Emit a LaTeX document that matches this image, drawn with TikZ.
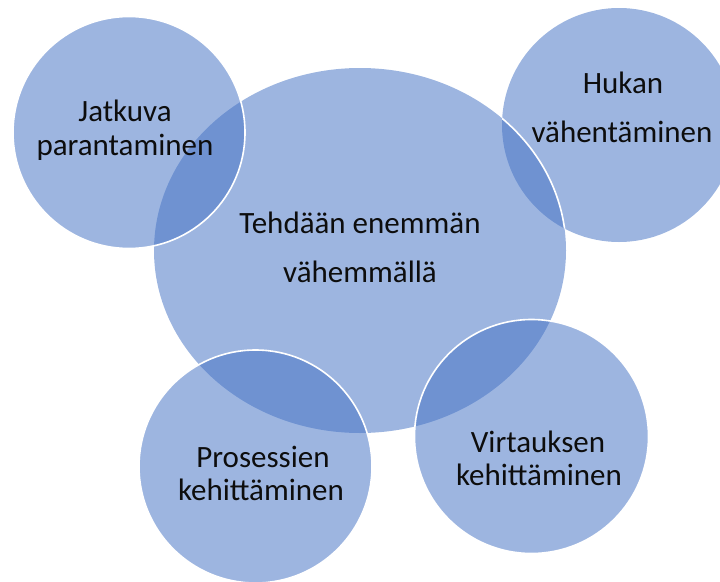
\documentclass[tikz,border=0pt]{standalone}
\usepackage{fontspec}
\setmainfont{Carlito}
\definecolor{acc}{HTML}{4472C4}
\definecolor{txt}{HTML}{0D0D0D}
\begin{document}
\begin{tikzpicture}[x=1pt,y=-1pt,
  blob/.style={fill=acc, fill opacity=0.52, draw=none},
  rim/.style={draw=white, line width=1.6pt},
  lbl/.style={text=txt, font=\fontsize{31}{37}\selectfont, anchor=base, inner sep=0pt}]
\useasboundingbox (0,0) rectangle (720,581);
\clip (0,0) rectangle (720,581);
% fills
\fill[blob] (619,125) circle[radius=117];
\fill[blob] (360,250.5) ellipse[x radius=206, y radius=182.5];
\fill[blob] (129,132.5) circle[radius=116];
\fill[blob] (255.5,466.5) circle[radius=116.5];
\fill[blob] (531.5,436.5) circle[radius=117];
% white rims of the shapes lying on top
\begin{scope}
  \clip (619,125) circle[radius=117];
  \draw[rim] (360,250.5) ellipse[x radius=206, y radius=182.5];
\end{scope}
\draw[rim] (129,132.5) circle[radius=116];
\draw[rim] (255.5,466.5) circle[radius=116.5];
\draw[rim] (531.5,436.5) circle[radius=117];
% labels
\node[lbl] (ja) at (125,121) {Jatkuva};
\node[lbl] (jb) at (125,155) {parantaminen};
\node[lbl] (ha) at (623,93) {Hukan};
\node[lbl] (hb) at (622,142) {vähentäminen};
\node[lbl] (ta) at (360,233) {Tehdään enemmän};
\node[lbl] (tb) at (360,282) {vähemmällä};
\node[lbl] (pa) at (263,467) {Prosessien};
\node[lbl] (pb) at (261,500) {kehittäminen};
\node[lbl] (va) at (538,452) {Virtauksen};
\node[lbl] (vb) at (539,485) {kehittäminen};
\end{tikzpicture}
\end{document}
